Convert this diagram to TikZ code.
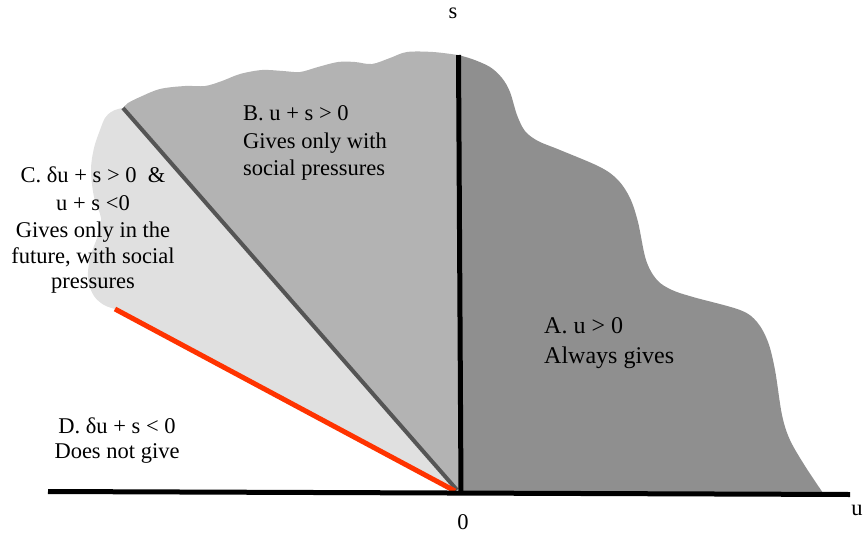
\documentclass[tikz,border=0pt]{standalone}
\usepackage{fontspec}
\setmainfont{Liberation Serif}
\definecolor{regA}{RGB}{143,143,143}
\definecolor{regB}{RGB}{179,179,179}
\definecolor{regC}{RGB}{224,224,224}
\definecolor{divline}{RGB}{85,85,85}
\definecolor{redline}{RGB}{255,51,0}
\begin{document}
\begin{tikzpicture}[x=1pt,y=-1pt,
  lbl/.style={font=\fontsize{22.5}{27}\selectfont, inner sep=0pt},
  lblA/.style={font=\fontsize{24}{30}\selectfont, inner sep=0pt},
  axisline/.style={line width=5pt, black},
  wave/.style={smooth, tension=0.55}]
\useasboundingbox (0,0) rectangle (865,536);
\coordinate (O) at (460,491);
\coordinate (stop) at (458.5,55);
\coordinate (sbot) at (461,493);
\coordinate (uleft) at (48,491.5);
\coordinate (uright) at (850,494.5);
\coordinate (gtop) at (123,108);
\coordinate (rtop) at (115,309);
\coordinate (aend) at (823,493);
% region A
\fill[regA] (sbot) -- (stop) -- plot[wave] coordinates {(458,55) (472,59) (490,67) (502,78) (510,92) (517,115) (525,131) (538,141) (560,150) (600,167) (618,180) (630,198) (638,222) (646,260) (657,280) (672,290) (693,297) (740,310) (757,322) (768,342) (775,370) (782,415) (790,440) (805,466) (823,493)} -- (aend) -- cycle;
% region B
\fill[regB] (O) -- (gtop) -- plot[wave] coordinates {(123,108) (128,103) (140,97) (160,89) (185,86) (205,86) (222,81) (240,74) (262,70) (283,71) (300,72) (318,67) (338,62) (355,62) (372,64) (390,58) (407,52) (433,52) (458,55)} -- (stop) -- cycle;
% region C
\fill[regC] (O) -- (gtop) -- plot[wave] coordinates {(123,108) (118,109) (111,112) (105,118) (100,130) (94,148) (91,170) (94,197) (101,218) (98,235) (90,258) (88,280) (94,296) (104,305) (115,309)} -- (rtop) -- cycle;
% dividing lines
\draw[divline, line width=4pt] (gtop) -- (457,490);
\draw[redline, line width=5pt] (rtop) -- (455,491);
% axes
\draw[axisline] (uleft) -- (uright);
\draw[axisline] (stop) -- (sbot);
% axis labels
\node[lbl, anchor=base] (slab) at (453,18) {s};
\node[lbl, anchor=base] (ulab) at (857,515) {u};
\node[lbl, anchor=base] (zlab) at (463,529) {0};
% region B text
\node[lbl, anchor=base west] (b1) at (243,120) {B. u + s > 0};
\node[lbl, anchor=base west] (b2) at (243,148) {Gives only with};
\node[lbl, anchor=base west] (b3) at (243,175) {social pressures};
% region C text
\node[lbl, anchor=base] (c1) at (93,182) {C. δu + s > 0 \ \&};
\node[lbl, anchor=base] (c2) at (93,210) {u + s <0};
\node[lbl, anchor=base] (c3) at (93,237) {Gives only in the};
\node[lbl, anchor=base] (c4) at (93,263) {future, with social};
\node[lbl, anchor=base] (c5) at (93,288) {pressures};
% region A text
\node[lblA, anchor=base west] (a1) at (544,333) {A. u > 0};
\node[lblA, anchor=base west] (a2) at (544,363) {Always gives};
% region D text
\node[lbl, anchor=base] (d1) at (117,433) {D. δu + s < 0};
\node[lbl, anchor=base] (d2) at (117,458) {Does not give};
\end{tikzpicture}
\end{document}
